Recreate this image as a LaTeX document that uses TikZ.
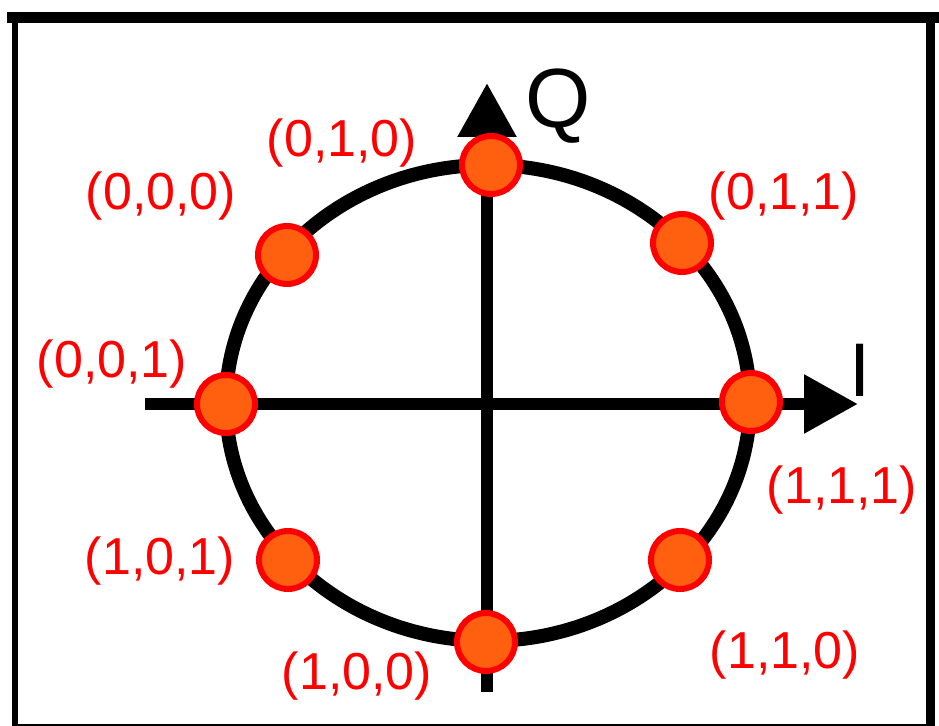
\documentclass[tikz,border=0pt]{standalone}
\usepackage{fontspec}
\setmainfont{Liberation Sans}
\usepackage{tikz}
\usetikzlibrary{arrows.meta}
\definecolor{dotorange}{RGB}{255,96,16}
\definecolor{lblred}{RGB}{255,0,0}

\begin{document}
\begin{tikzpicture}[x=0.5pt,y=-0.5pt,
  dot/.style={circle, draw=red, line width=3pt, fill=dotorange,
              minimum size=29pt, inner sep=0pt},
  lbl/.style={text=lblred, font=\fontsize{26}{30}\selectfont, inner sep=0pt},
  axlbl/.style={inner sep=0pt, font=\fontsize{42}{46}\selectfont},
  axis/.style={line width=6pt, -{Triangle[length=27pt,width=28pt]}},
  ring/.style={line width=7pt}
]
\useasboundingbox (0,0) rectangle (939,726);
% frame
\draw[line width=5.5pt] (7,17.5) -- (939,17.5);
\draw[line width=3pt] (15,12) -- (15,726);
\draw[line width=4.5pt] (930.5,12) -- (930.5,726);
\draw[line width=1pt] (12,725) -- (930,725);

% axes
\coordinate (o) at (488,403);
\coordinate (iw) at (145,404);
\coordinate (ie) at (858,404);
\coordinate (qs) at (487,692);
\coordinate (qn) at (487,83);
\draw[axis] (iw) -- (ie);
\draw[axis] (qs) -- (qn);
\node[axlbl] (qlbl) at (558,106) {Q};
\node[axlbl, font=\fontsize{38}{42}\selectfont] (ilbl) at (860,370) {I};

% ring
\draw[ring] (o) ellipse [x radius=262, y radius=238];

% constellation points
\node[dot] (d010) at (491,165) {};
\node[dot] (d000) at (287,255) {};
\node[dot] (d011) at (682,243) {};
\node[dot] (d001) at (226,404) {};
\node[dot] (d111) at (751,402) {};
\node[dot] (d101) at (288,560) {};
\node[dot] (d110) at (680,560) {};
\node[dot] (d100) at (486,642) {};

% bit labels
\node[lbl] (l010) at (342,143) {(0,1,0)};
\node[lbl] (l000) at (161,196) {(0,0,0)};
\node[lbl] (l011) at (784,196) {(0,1,1)};
\node[lbl] (l001) at (112,364) {(0,0,1)};
\node[lbl] (l111) at (842,490) {(1,1,1)};
\node[lbl] (l101) at (160,561) {(1,0,1)};
\node[lbl] (l100) at (357,676) {(1,0,0)};
\node[lbl] (l110) at (785,655) {(1,1,0)};
\end{tikzpicture}
\end{document}
